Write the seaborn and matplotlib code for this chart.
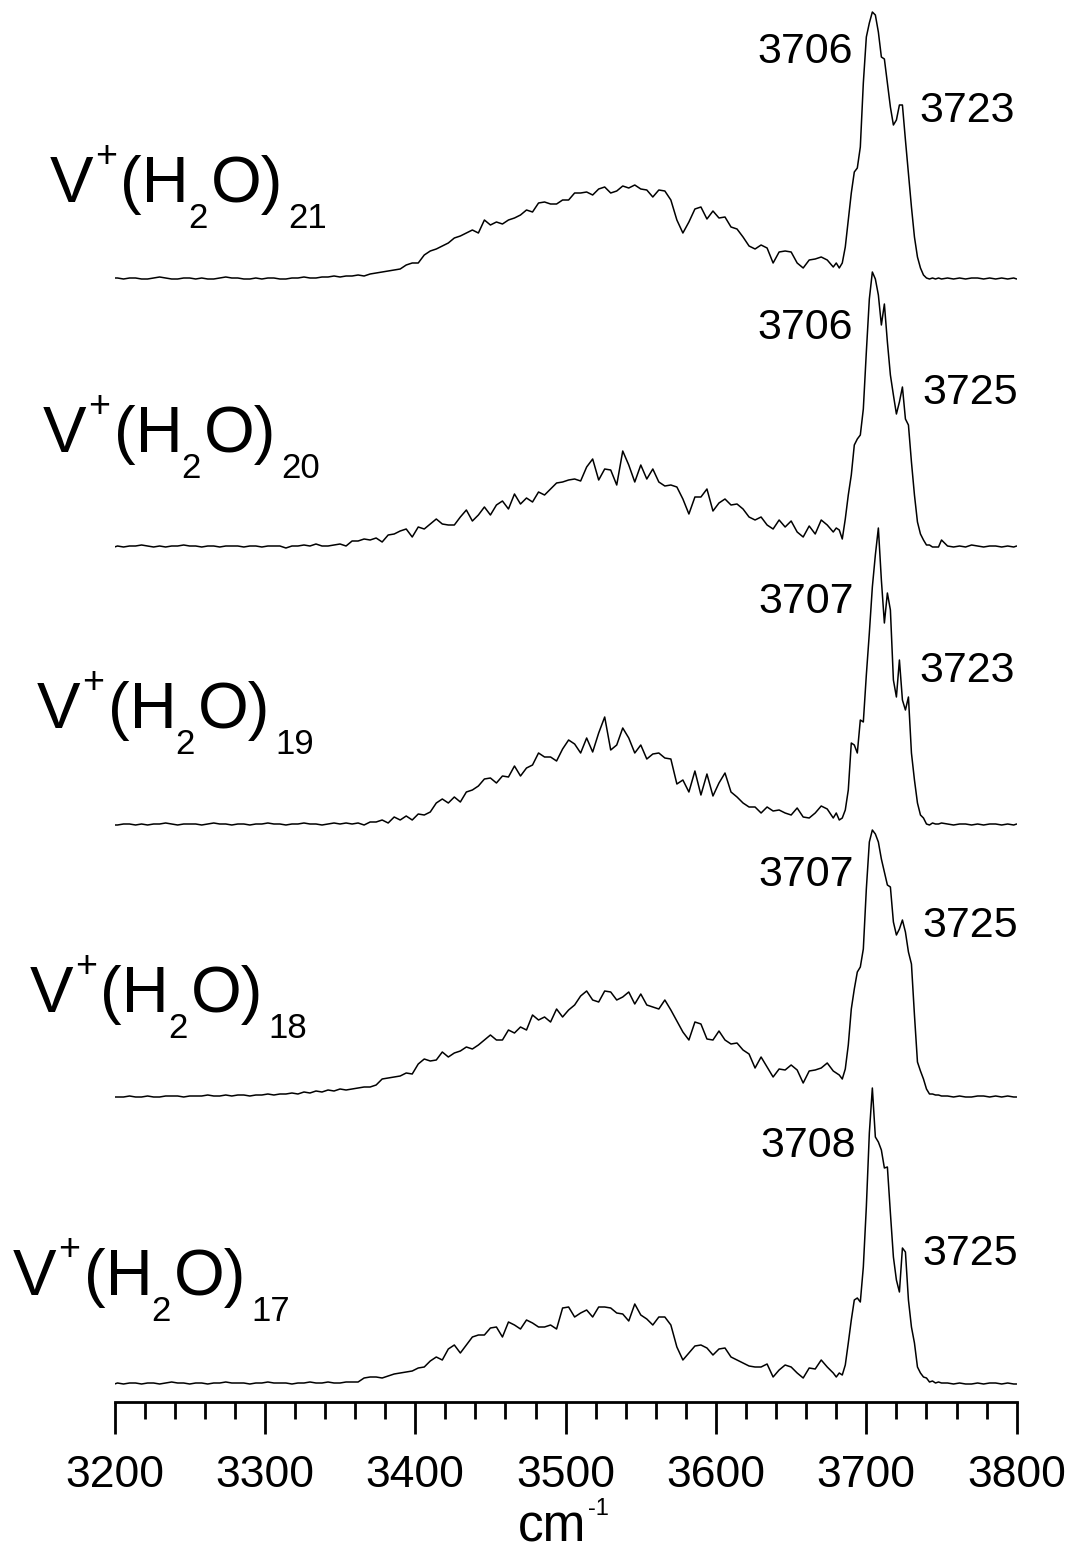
import numpy as np
import pandas as pd
import matplotlib
matplotlib.use("Agg")
import matplotlib.pyplot as plt
from matplotlib.transforms import IdentityTransform
from matplotlib.ticker import MultipleLocator
import seaborn as sns

# ---------------------------------------------------------------- data
# wavenumber sampling (cm^-1): coarse over the broad band, fine over the free-OH peak
wavenumber = np.concatenate([[3200], np.arange(3202, 3679, 4),
                             np.arange(3680, 3751, 2), np.arange(3754, 3799, 4), [3800]])

cluster_sizes = [21, 20, 19, 18, 17]

# photodissociation signal (arb. units, baseline = 0)
signal_21 = [
    1, 1, 0, 1, 1, 0, 0, 1, 2, 1, 0, 0, 1, 1, 0, 1, 0, 0, 1, 2, 1,
    1, 0, 0, 1, 0, 1, 1, 0, 0, 1, 1, 2, 1, 1, 2, 2, 3, 2, 3, 3,
    4, 3, 5, 6, 7, 8, 9, 10, 14, 16, 16, 24, 28, 30, 33, 36, 41, 43, 46, 49,
    46, 59, 54, 57, 55, 59, 61, 64, 69, 67, 76, 77, 75, 75, 79, 79, 86, 86, 87, 84,
    90, 92, 86, 88, 93, 91, 94, 90, 89, 82, 89, 88, 79, 59, 46, 57, 70, 72, 60, 68,
    61, 62, 52, 50, 42, 33, 30, 34, 31, 16, 27, 28, 27, 16, 11, 19, 20, 22, 19, 12,
    16, 11, 16, 32, 59, 86, 107, 111, 132, 196, 242, 256, 267, 264, 247, 222, 220, 196,
    172, 154, 159, 174, 174, 139, 106, 72, 42, 22, 11, 4, 1, 0, 1, 0, 1, 0,
    1, 0, 1, 0, 1, 1, 0, 1, 0, 1, 0, 1, 0,
]
signal_20 = [
    0, 1, 0, 1, 1, 2, 1, 0, 1, 0, 1, 1, 2, 1, 1, 0, 1, 1, 0, 1, 1,
    1, 0, 1, 1, 0, 1, 1, 1, -1, 1, 1, 2, 1, 3, 1, 1, 2, 3, 1, 6,
    6, 8, 7, 9, 5, 12, 13, 16, 18, 10, 20, 18, 23, 28, 23, 22, 22, 30, 37, 26,
    32, 40, 32, 42, 46, 38, 53, 43, 49, 45, 55, 52, 58, 64, 65, 67, 68, 66, 80, 88,
    67, 78, 77, 62, 96, 82, 65, 82, 68, 78, 65, 61, 62, 60, 48, 33, 50, 50, 58, 36,
    44, 48, 42, 43, 38, 30, 27, 30, 22, 18, 27, 20, 26, 15, 10, 21, 13, 27, 22, 15,
    19, 17, 8, 28, 52, 72, 102, 108, 112, 138, 195, 248, 275, 268, 252, 222, 243, 205,
    172, 152, 133, 145, 160, 128, 122, 85, 52, 25, 13, 7, 2, 2, 0, 0, 0, 7,
    1, 0, 1, 0, 2, 1, 0, 1, 1, 0, 1, 0, 1,
]
signal_19 = [
    0, 0, 1, 1, 0, 1, 0, 1, 1, 2, 1, 0, 1, 1, 1, 0, 1, 2, 1, 1, 0,
    1, 1, 0, 1, 1, 2, 1, 1, 0, 1, 1, 2, 1, 1, 0, 1, 2, 1, 2, 1,
    2, 0, 3, 3, 5, 2, 8, 5, 9, 5, 11, 10, 13, 22, 26, 22, 28, 23, 33, 35,
    39, 46, 47, 42, 49, 48, 59, 49, 57, 60, 72, 68, 68, 64, 76, 85, 81, 72, 87, 73,
    92, 108, 75, 80, 97, 87, 72, 80, 66, 71, 72, 67, 66, 41, 45, 33, 54, 30, 51, 29,
    42, 52, 33, 28, 22, 18, 18, 12, 18, 14, 15, 12, 10, 17, 8, 7, 12, 19, 16, 7,
    12, 5, 7, 15, 35, 82, 80, 72, 105, 103, 150, 192, 238, 270, 297, 245, 202, 232,
    215, 145, 128, 165, 125, 115, 128, 72, 45, 22, 10, 7, 1, 0, 2, 1, 1, 2,
    1, 0, 1, 1, 0, 1, 0, 1, 1, 0, 1, 0, 1,
]
signal_18 = [
    0, 0, 0, 1, 0, 0, 1, 0, 0, 1, 1, 1, 0, 1, 1, 1, 2, 1, 1, 2, 1,
    2, 2, 1, 2, 2, 3, 2, 3, 3, 4, 3, 5, 4, 6, 5, 7, 6, 8, 7, 8,
    9, 10, 10, 12, 18, 19, 20, 21, 24, 23, 33, 38, 36, 37, 45, 40, 44, 46, 50, 48,
    52, 57, 62, 57, 57, 67, 64, 70, 67, 82, 77, 80, 75, 88, 80, 87, 92, 101, 106, 97,
    95, 106, 105, 97, 100, 105, 93, 103, 92, 90, 88, 97, 87, 76, 65, 57, 75, 73, 58, 57,
    66, 57, 53, 54, 47, 43, 29, 40, 30, 20, 28, 27, 32, 27, 14, 26, 27, 29, 34, 26,
    24, 22, 18, 28, 52, 88, 108, 125, 130, 148, 208, 255, 267, 263, 255, 238, 225, 212,
    210, 175, 162, 168, 177, 165, 145, 133, 82, 35, 26, 18, 8, 3, 3, 2, 2, 1,
    1, 0, 1, 0, 0, 1, 1, 0, 1, 0, 1, 0, 0,
]
signal_17 = [
    0, 1, 0, 1, 1, 0, 1, 1, 0, 1, 2, 1, 1, 0, 1, 1, 0, 1, 1, 2, 1,
    1, 1, 0, 1, 1, 2, 1, 1, 1, 0, 1, 1, 2, 1, 1, 2, 1, 1, 2, 2,
    2, 6, 7, 7, 6, 8, 10, 11, 12, 13, 16, 17, 23, 27, 24, 35, 39, 31, 39, 47,
    49, 49, 56, 57, 47, 62, 59, 55, 64, 61, 57, 57, 59, 55, 76, 77, 67, 71, 74, 67,
    77, 77, 76, 71, 70, 63, 80, 69, 65, 59, 67, 67, 59, 37, 24, 31, 38, 39, 36, 29,
    35, 36, 27, 24, 21, 18, 17, 17, 20, 7, 14, 19, 17, 11, 6, 16, 15, 24, 17, 11,
    7, 11, 9, 19, 41, 64, 84, 86, 82, 117, 177, 251, 296, 247, 242, 234, 216, 217,
    171, 127, 104, 92, 136, 132, 84, 57, 41, 17, 11, 7, 6, 2, 3, 1, 2, 1,
    1, 0, 1, 0, 0, 1, 0, 1, 1, 0, 1, 0, 0,
]
signals = [signal_21, signal_20, signal_19, signal_18, signal_17]

# assigned free-OH band positions (cm^-1) for each cluster
peak_main = [3706, 3706, 3707, 3707, 3708]
peak_side = [3723, 3725, 3723, 3725, 3725]

# ---------------------------------------------------------------- layout
FIG_W, FIG_H = 1073, 1552
trace_offsets = [1123, 855, 577, 305, 18]          # vertical stacking of the traces
main_label_height = [216, 208, 212, 211, 227]      # peak labels, above each trace baseline
side_label_height = [157, 143, 143, 160, 119]
formula_anchor = [(50, 202), (43, 452), (37, 728), (30, 1012), (13, 1295)]  # px from top-left

sns.set_style("white")
plt.rcParams["font.family"] = ["Liberation Sans", "DejaVu Sans"]
plt.rcParams.update({"text.color": "black", "xtick.color": "black",
                     "xtick.labelcolor": "black", "axes.edgecolor": "black"})

fig = plt.figure(figsize=(FIG_W / 100, FIG_H / 100), dpi=100)
ax = fig.add_axes([114.5 / FIG_W, 150 / FIG_H, 902.2 / FIG_W, 1402 / FIG_H])

rows = []
for n, sig, off in zip(cluster_sizes, signals, trace_offsets):
    assert len(sig) == len(wavenumber)
    rows.append(pd.DataFrame({"wavenumber": wavenumber,
                              "signal": np.asarray(sig, float) + off,
                              "cluster": n}))
df = pd.concat(rows, ignore_index=True)

sns.lineplot(data=df, x="wavenumber", y="signal", units="cluster", estimator=None,
             sort=False, color="black", linewidth=1.1, legend=False, ax=ax)

ax.set_xlim(3200, 3800)
ax.set_ylim(0, 1402)
ax.set_xlabel("")
ax.set_ylabel("")
ax.set_yticks([])
for side in ("left", "right", "top"):
    ax.spines[side].set_visible(False)
ax.spines["bottom"].set_linewidth(2.0)
ax.spines["bottom"].set_color("black")
ax.xaxis.set_major_locator(MultipleLocator(100))
ax.xaxis.set_minor_locator(MultipleLocator(20))
ax.tick_params(axis="x", which="major", direction="out", length=23, width=2.0,
               labelsize=32, pad=15.5, color="black", labelcolor="black", bottom=True)
ax.tick_params(axis="x", which="minor", direction="out", length=12, width=2.0,
               color="black", bottom=True)
ax.set_facecolor("white")

# peak position labels
for i, off in enumerate(trace_offsets):
    ax.text(peak_main[i] - 15, off + main_label_height[i], str(peak_main[i]),
            fontsize=31, ha="right", va="baseline", color="black")
    ax.text(peak_side[i] + 12.5, off + side_label_height[i], str(peak_side[i]),
            fontsize=31, ha="left", va="baseline", color="black")

renderer = fig.canvas.get_renderer()


def chained_text(x_px, baseline_px, pieces):
    """Draw text pieces left to right on a common baseline (pixel coords from top-left)."""
    cursor = x_px
    y = FIG_H - baseline_px
    for text, size, dy, gap in pieces:
        t = fig.text(cursor + gap, y + dy, text, transform=IdentityTransform(),
                     fontsize=size, ha="left", va="baseline", color="black")
        cursor = t.get_window_extent(renderer).x1


BIG, SUP, SUB = 47, 27, 25
for n, (x0, y0) in zip(cluster_sizes, formula_anchor):
    chained_text(x0, y0, [("V", BIG, 0, 0), ("+", SUP, 35, 2), ("(H", BIG, 0, 3),
                          ("2", SUB, -26, -1), ("O)", BIG, 0, 3), (str(n), SUB, -26, 5)])

# axis unit
chained_text(518, 1541, [("cm", 37, 0, 0), ("-1", 17, 26, 2)])

fig.savefig("out.png", dpi=100, facecolor="white")
